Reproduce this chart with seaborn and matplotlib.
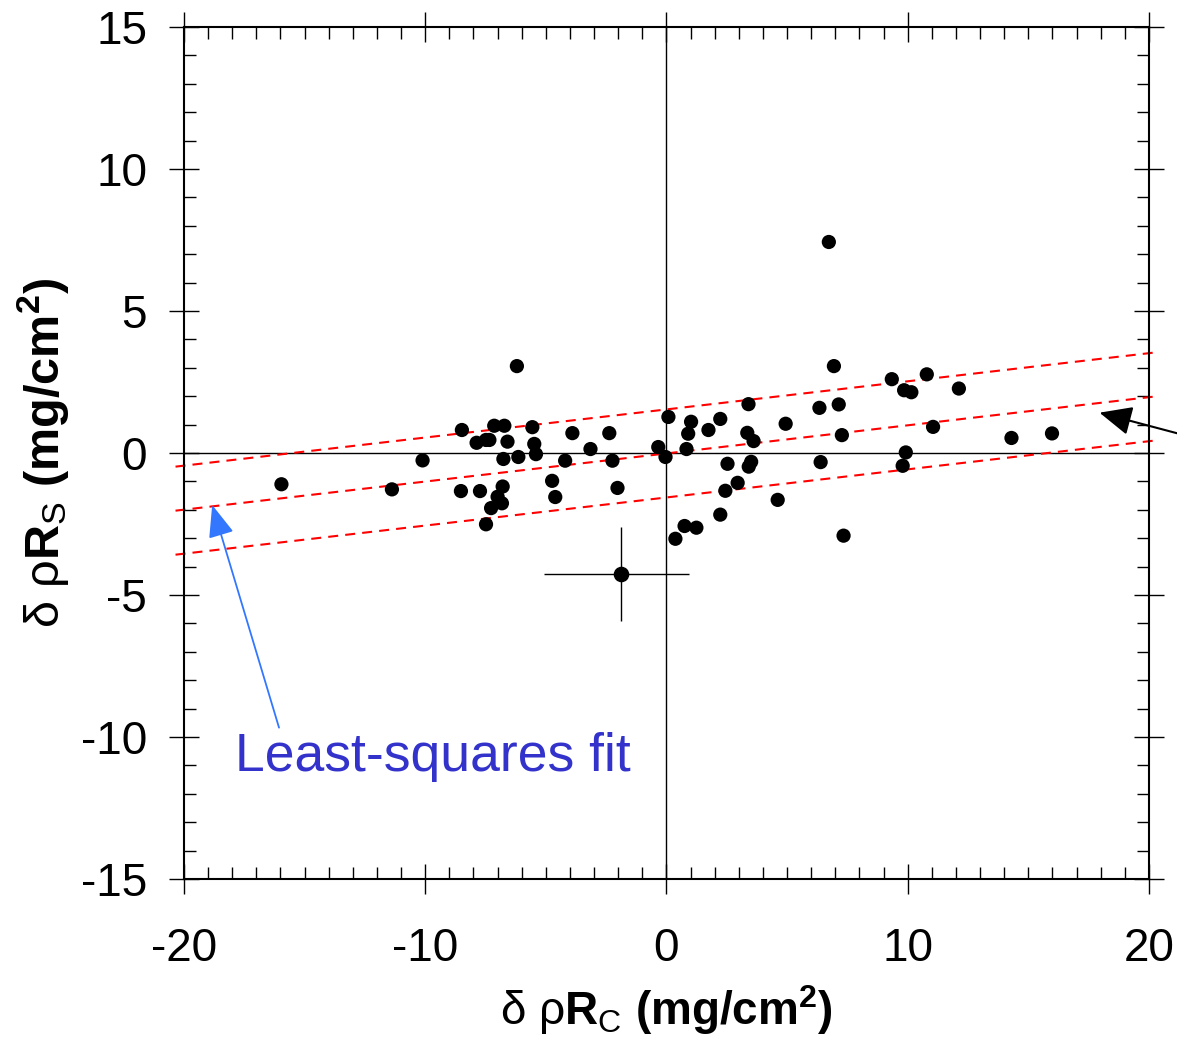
import numpy as np
import pandas as pd
import matplotlib
matplotlib.use("Agg")
import matplotlib.pyplot as plt
import seaborn as sns
from matplotlib.ticker import MultipleLocator

# ---------------- data ----------------
drc = [-15.96, -11.38, -10.11, -8.48, -8.52, -7.73, -7.87, -7.48, -7.34, -7.14,
       -6.72, -6.76, -6.79, -7.00, -6.82, -7.27, -7.48, -6.59, -6.20, -5.56,
       -5.48, -5.41, -6.14, -3.90, -4.20, -3.15, -2.37, -2.24, -4.74, -4.61,
       -2.03, 0.08, -0.34, -0.04, 1.02, 0.90, 1.74, 2.23, 0.83, 3.40,
       3.35, 3.61, 2.53, 3.51, 3.41, 2.95, 2.44, 4.61, 2.23, 0.75,
       1.24, 0.37, 4.94, 6.34, 6.39, 6.73, 6.94, 7.14, 7.27, 7.34,
       9.34, 9.85, 10.15, 10.79, 12.12, 11.05, 9.92, 9.79, 14.30, 15.98]
drs = [-1.10, -1.28, -0.26, 0.81, -1.34, -1.34, 0.36, 0.46, 0.46, 0.96,
       0.96, -0.21, -1.18, -1.54, -1.77, -1.94, -2.51, 0.40, 3.06, 0.91,
       0.32, -0.04, -0.14, 0.70, -0.27, 0.14, 0.70, -0.27, -0.98, -1.55,
       -1.23, 1.27, 0.21, -0.14, 1.10, 0.68, 0.81, 1.20, 0.14, 1.72,
       0.71, 0.42, -0.38, -0.31, -0.48, -1.05, -1.33, -1.65, -2.17, -2.57,
       -2.63, -3.02, 1.03, 1.59, -0.32, 7.43, 3.06, 1.71, 0.63, -2.91,
       2.60, 2.21, 2.14, 2.77, 2.27, 0.92, 0.02, -0.45, 0.53, 0.69]

# representative point with error bars
err_x = [-1.88]
err_y = [-4.25]
err_xlo = [3.18]
err_xhi = [2.83]
err_ylo = [1.68]
err_yhi = [1.64]

# least-squares fit line and band (end values)
fit_x = [-20.35, 20.35]
fit_center = [-2.03, 2.00]
fit_upper = [-0.48, 3.55]
fit_lower = [-3.58, 0.45]

xticks = [-20, -10, 0, 10, 20]
yticks = [-15, -10, -5, 0, 5, 10, 15]

# ---------------- style ----------------
sns.set_theme(style="white")
plt.rcParams["font.family"] = ["Liberation Sans", "DejaVu Sans"]
plt.rcParams["mathtext.fontset"] = "custom"
plt.rcParams["mathtext.rm"] = "Liberation Sans"
plt.rcParams["mathtext.bf"] = "Liberation Sans:bold"
plt.rcParams["mathtext.it"] = "Liberation Sans:italic"
plt.rcParams["text.color"] = "black"
plt.rcParams["axes.labelcolor"] = "black"

fig = plt.figure(figsize=(11.77, 10.42), dpi=100)
ax = fig.add_axes([0.1563, 0.1564, 0.8199, 0.8177])

df = pd.DataFrame({"drc": drc, "drs": drs})

# zero lines
ax.axhline(0, color="black", lw=1.0, zorder=1)
ax.axvline(0, color="black", lw=1.0, zorder=1)

# fit lines
n0 = len(ax.get_lines())
for yy in (fit_upper, fit_center, fit_lower):
    line_df = pd.DataFrame({"x": fit_x, "y": yy})
    sns.lineplot(data=line_df, x="x", y="y", ax=ax, color="#ff0000", lw=1.5,
                 clip_on=False, zorder=2)
for l in ax.get_lines()[n0:]:
    l.set_dashes([4.8, 3.4])

sns.scatterplot(data=df, x="drc", y="drs", ax=ax, color="black", s=105,
                edgecolor="none", zorder=3)

ax.errorbar(err_x, err_y, xerr=[err_xlo, err_xhi], yerr=[err_ylo, err_yhi],
            fmt="o", color="black", ms=10.2, elinewidth=1.0, capsize=0, zorder=3)

ax.set_xlim(-20, 20)
ax.set_ylim(-15, 15)
ax.set_xticks(xticks)
ax.set_yticks(yticks)
ax.xaxis.set_minor_locator(MultipleLocator(1))
ax.yaxis.set_minor_locator(MultipleLocator(1))

for s in ax.spines.values():
    s.set_visible(True)
    s.set_color("black")
    s.set_linewidth(1.5)

ax.tick_params(which="major", direction="inout", length=21, width=1.0,
               color="black", top=True, right=True, bottom=True, left=True,
               labelsize=33, labelcolor="black")
ax.tick_params(which="minor", direction="in", length=8.5, width=1.0,
               color="black", top=True, right=True, bottom=True, left=True)
ax.tick_params(axis="x", which="major", pad=24)
ax.tick_params(axis="y", which="major", pad=16)
ax.set_yticklabels([str(v) for v in yticks])
ax.set_xticklabels([str(v) for v in xticks])

ax.set_xlabel(r"$\mathrm{\delta\ \rho}\mathbf{R}_{\mathrm{C}}\ \mathbf{(mg/cm^{2})}$",
              fontsize=33, labelpad=9, color="black")
ax.set_ylabel(r"$\mathrm{\delta\ \rho}\mathbf{R}_{\mathrm{S}}\ \mathbf{(mg/cm^{2})}$",
              fontsize=35, labelpad=7, color="black")

# annotations
ax.text(-17.9, -10.7, "Least-squares fit", fontsize=38.5, color="#3333cc",
        ha="left", va="center")
ax.annotate("", xy=(-18.83, -1.83), xytext=(-16.06, -9.67),
            arrowprops=dict(arrowstyle="-|>,head_length=1.0,head_width=0.4",
                            mutation_scale=20, color="#3377ff", lw=1.3,
                            shrinkA=0, shrinkB=0),
            annotation_clip=False)
ax.annotate("", xy=(17.95, 1.42), xytext=(21.5, 0.62),
            arrowprops=dict(arrowstyle="-|>,head_length=1.0,head_width=0.45",
                            mutation_scale=20, color="black", lw=1.5,
                            shrinkA=0, shrinkB=0),
            annotation_clip=False)

fig.savefig("out.png", dpi=100)
